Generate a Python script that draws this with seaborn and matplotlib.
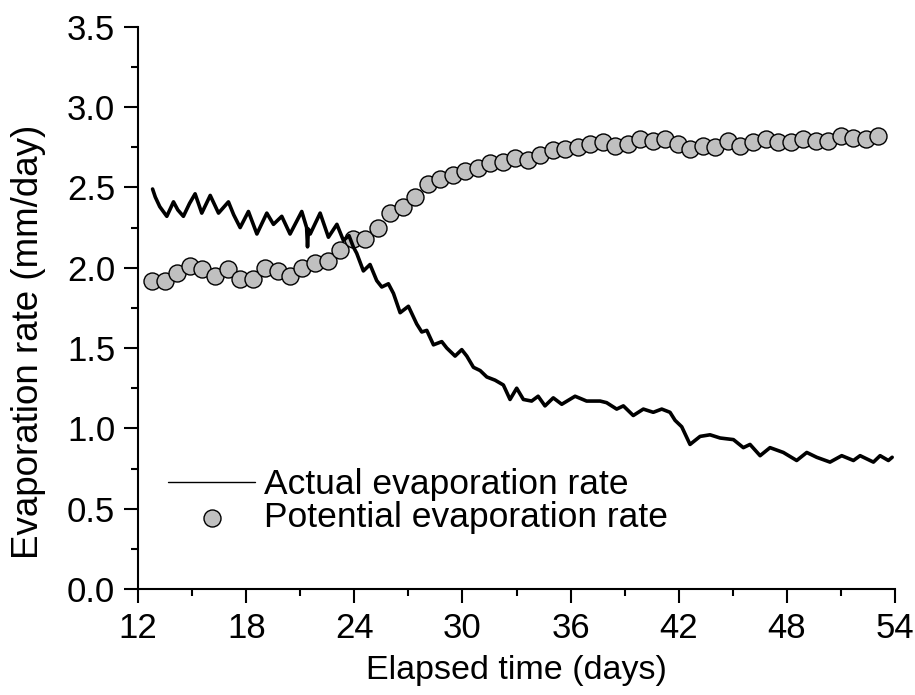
import numpy as np
import pandas as pd
import matplotlib
matplotlib.use("Agg")
import matplotlib.pyplot as plt
import seaborn as sns

# actual evaporation rate, traced along the daily oscillations
actual_days = [12.80, 12.95, 13.20, 13.59, 13.96, 14.20, 14.51, 14.85, 15.16, 15.53,
               16.00, 16.46, 17.01, 17.30, 17.66, 18.12, 18.59, 19.14, 19.51, 19.97,
               20.43, 21.08, 21.35, 21.40, 21.45, 21.55, 22.10, 22.56, 23.03, 23.39,
               23.70, 23.94, 24.13, 24.50, 24.87, 25.24, 25.52, 25.89, 26.17, 26.54,
               27.00, 27.46, 27.74, 28.02, 28.39, 28.85, 29.13, 29.59, 29.96, 30.24,
               30.61, 30.98, 31.35, 31.81, 32.27, 32.64, 33.01, 33.38, 33.84, 34.20,
               34.58, 35.04, 35.51, 36.25, 36.89, 37.64, 38.00, 38.56, 38.93, 39.48,
               40.04, 40.59, 41.06, 41.52, 41.80, 42.17, 42.63, 43.19, 43.74, 44.30,
               45.04, 45.59, 45.96, 46.52, 47.07, 47.81, 48.55, 49.11, 49.66, 50.40,
               51.05, 51.70, 52.07, 52.81, 53.18, 53.64, 53.85]
actual_rate = [2.49, 2.44, 2.38, 2.32, 2.41, 2.36, 2.32, 2.40, 2.46, 2.34,
               2.45, 2.34, 2.41, 2.33, 2.25, 2.35, 2.21, 2.34, 2.27, 2.32,
               2.21, 2.35, 2.25, 2.13, 2.24, 2.21, 2.34, 2.19, 2.27, 2.17,
               2.20, 2.13, 2.09, 1.98, 2.02, 1.92, 1.88, 1.90, 1.84, 1.72,
               1.76, 1.65, 1.60, 1.61, 1.52, 1.54, 1.50, 1.45, 1.49, 1.45,
               1.38, 1.36, 1.32, 1.30, 1.27, 1.18, 1.25, 1.18, 1.17, 1.20,
               1.14, 1.19, 1.15, 1.20, 1.17, 1.17, 1.16, 1.12, 1.14, 1.08,
               1.12, 1.10, 1.12, 1.10, 1.05, 1.01, 0.90, 0.95, 0.96, 0.94,
               0.93, 0.88, 0.90, 0.83, 0.88, 0.85, 0.80, 0.85, 0.82, 0.79,
               0.83, 0.80, 0.83, 0.79, 0.83, 0.80, 0.82]

# potential evaporation rate
potential_days = [12.79, 13.48, 14.18, 14.87, 15.57, 16.26, 16.96, 17.65, 18.35, 19.04,
                  19.74, 20.43, 21.12, 21.82, 22.51, 23.21, 23.90, 24.60, 25.29, 25.99,
                  26.68, 27.37, 28.07, 28.76, 29.46, 30.15, 30.85, 31.54, 32.24, 32.93,
                  33.63, 34.32, 35.01, 35.71, 36.40, 37.10, 37.79, 38.49, 39.18, 39.88,
                  40.57, 41.26, 41.96, 42.65, 43.35, 44.04, 44.74, 45.43, 46.13, 46.82,
                  47.52, 48.21, 48.90, 49.60, 50.29, 50.99, 51.68, 52.38, 53.07]
potential_rate = [1.92, 1.92, 1.97, 2.01, 1.99, 1.95, 1.99, 1.93, 1.93, 2.00,
                  1.98, 1.95, 2.00, 2.03, 2.04, 2.11, 2.18, 2.18, 2.25, 2.34,
                  2.38, 2.44, 2.52, 2.55, 2.58, 2.60, 2.62, 2.65, 2.66, 2.68,
                  2.67, 2.70, 2.73, 2.74, 2.75, 2.77, 2.78, 2.76, 2.77, 2.80,
                  2.79, 2.80, 2.77, 2.74, 2.76, 2.75, 2.79, 2.76, 2.78, 2.80,
                  2.78, 2.78, 2.80, 2.79, 2.79, 2.82, 2.81, 2.80, 2.82]

sns.set_style("ticks")
plt.rcParams['font.family'] = ['Liberation Sans', 'DejaVu Sans']
plt.rcParams['font.size'] = 24
plt.rcParams['text.color'] = 'black'
plt.rcParams['axes.labelcolor'] = 'black'
plt.rcParams['xtick.color'] = 'black'
plt.rcParams['ytick.color'] = 'black'
plt.rcParams['axes.edgecolor'] = 'black'

actual_df = pd.DataFrame({'day': actual_days, 'rate': actual_rate})
potential_df = pd.DataFrame({'day': potential_days, 'rate': potential_rate})

fig = plt.figure(figsize=(9.15, 6.95), dpi=100)
ax = fig.add_axes([0.151, 0.1525, 0.827, 0.809])

sns.scatterplot(data=potential_df, x='day', y='rate', ax=ax, s=150,
                color='#c0c0c0', edgecolor='black', linewidth=1.0,
                label='Potential evaporation rate', zorder=2)
sns.lineplot(data=actual_df, x='day', y='rate', ax=ax, sort=False,
             estimator=None, color='black', linewidth=2.6,
             label='Actual evaporation rate', zorder=3)

ax.set_xlim(12, 54)
ax.set_ylim(0, 3.5)
ax.set_xticks(np.arange(12, 55, 6))
ax.set_xticks(np.arange(15, 54, 6), minor=True)
ax.set_yticks(np.arange(0, 3.51, 0.5))
ax.set_yticks(np.arange(0.25, 3.5, 0.5), minor=True)
ax.set_yticklabels([f'{v:.1f}' for v in np.arange(0, 3.51, 0.5)])
ax.tick_params(which='major', direction='out', length=10, width=1.5, labelsize=25, pad=6.5)
ax.tick_params(which='minor', direction='out', length=5, width=1.5)
for side in ['left', 'bottom']:
    ax.spines[side].set_linewidth(1.5)
sns.despine(ax=ax)

ax.set_xlabel('Elapsed time (days)', fontsize=24.5, labelpad=7)
ax.set_ylabel('Evaporation rate (mm/day)', fontsize=26.5)
ax.yaxis.set_label_coords(-0.122, 0.44)

handles, labels = ax.get_legend_handles_labels()
order = [labels.index('Actual evaporation rate'), labels.index('Potential evaporation rate')]
leg = ax.legend([handles[i] for i in order], [labels[i] for i in order],
                loc='lower left', bbox_to_anchor=(0.04, 0.097), frameon=False,
                fontsize=25.5, handlelength=2.45, handletextpad=0.25,
                labelspacing=0.0, borderpad=0, borderaxespad=0)
leg.get_lines()[0].set_linewidth(1.0)

fig.savefig('out.png', dpi=100)
